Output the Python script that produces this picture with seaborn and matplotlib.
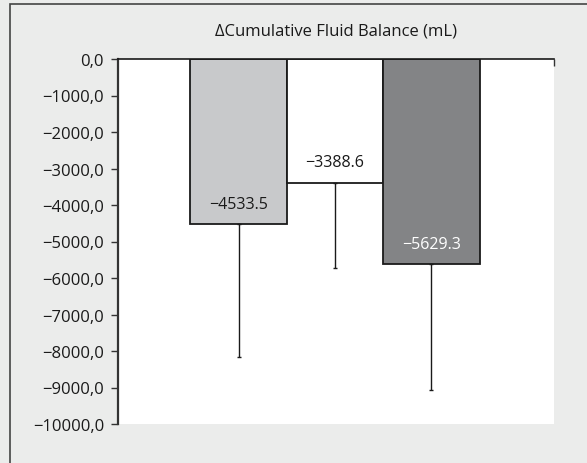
import numpy as np
import pandas as pd
import matplotlib
matplotlib.use("Agg")
import matplotlib.pyplot as plt
import seaborn as sns
from matplotlib.patches import Rectangle

# ---- data ----
groups = ["Group 1", "Group 2", "Group 3"]
means = [-4533.5, -3388.6, -5629.3]
sd_down = [3622.0, 2330.0, 3440.0]
bar_colors = ["#c8c9cb", "#ffffff", "#838486"]
label_colors = ["#1a1a1a", "#1a1a1a", "#ffffff"]
value_labels = ["\u22124533.5", "\u22123388.6", "\u22125629.3"]
y_ticks = [0, -1000, -2000, -3000, -4000, -5000, -6000, -7000, -8000, -9000, -10000]
y_tick_labels = ["0,0"] + [f"\u2212{abs(t)},0" for t in y_ticks[1:]]
title = "\u0394Cumulative Fluid Balance (mL)"

BG = "#ebeceb"

sns.set_theme(style="white")
plt.rcParams["font.family"] = ["Open Sans", "DejaVu Sans"]

df = pd.DataFrame({"group": groups, "value": means})

fig = plt.figure(figsize=(5.87, 4.64), dpi=100, facecolor=BG)
ax = fig.add_axes([118 / 587, 1 - 425 / 464, (554 - 118) / 587, (425 - 60) / 464])
ax.set_facecolor("white")

sns.barplot(data=df, x="group", y="value", hue="group", palette=bar_colors,
            width=1.0, edgecolor="#1a1a1a", linewidth=1.3, legend=False,
            errorbar=None, ax=ax, zorder=2)

xpos = np.arange(len(groups))
ax.errorbar(xpos, means, yerr=[sd_down, np.zeros(len(groups))], fmt="none",
            ecolor="#1a1a1a", elinewidth=1.0, capsize=1.6, capthick=1.0, zorder=3)

for x, v, lab, c in zip(xpos, means, value_labels, label_colors):
    ax.text(x, v + 570, lab, ha="center", va="center", fontsize=11.5, color=c, zorder=4)

ax.set_xlim(-1.25, 3.27)
ax.set_ylim(-10000, 0)
ax.set_yticks(y_ticks)
ax.set_yticklabels(y_tick_labels, fontsize=12, color="#1a1a1a")
ax.tick_params(axis="y", direction="out", length=5, width=1.0, color="#333333", pad=5, left=True)

# category axis sits at zero (top), only the end tick shows
ax.xaxis.set_ticks_position("top")
ax.set_xticks([3.27])
ax.set_xticklabels([""])
ax.tick_params(axis="x", direction="in", length=5, width=1.0, color="#333333", top=True, bottom=False)
ax.set_xlabel("")
ax.set_ylabel("")

for side in ["right", "bottom"]:
    ax.spines[side].set_visible(False)
ax.spines["left"].set_color("#333333")
ax.spines["left"].set_linewidth(1.6)
ax.spines["top"].set_color("#1a1a1a")
ax.spines["top"].set_linewidth(1.2)
ax.spines["top"].set_zorder(5)

fig.text((118 + 554) / 2 / 587, 1 - 31 / 464, title, ha="center", va="center",
         fontsize=12, color="#1a1a1a")

# outer frame (only top and left edges fall inside the image)
fig.add_artist(Rectangle((10 / 587, -0.1), 2.0, 1 - 5 / 464 + 0.1, transform=fig.transFigure,
                         fill=False, edgecolor="#444444", linewidth=1.2))

fig.savefig("out.png", dpi=100, facecolor=BG)
